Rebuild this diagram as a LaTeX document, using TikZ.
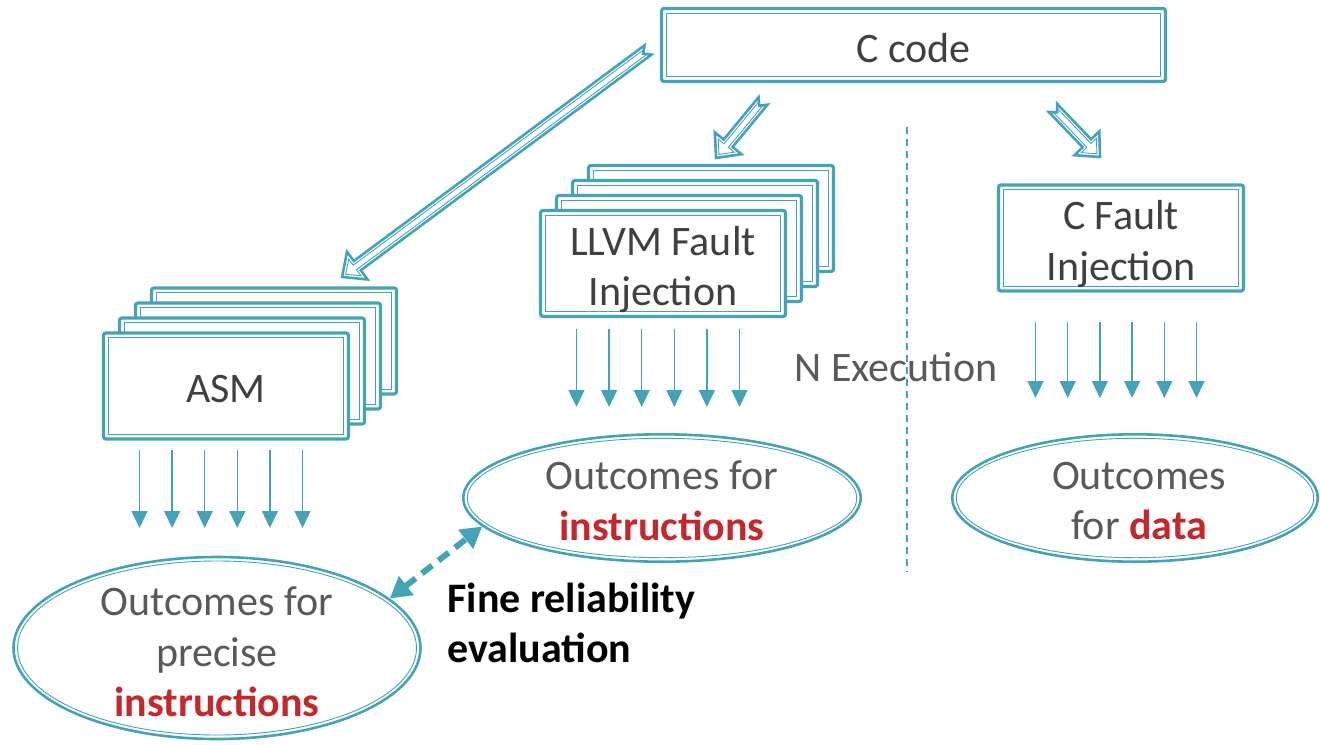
\documentclass[tikz,border=0pt]{standalone}
\usepackage{fontspec}
\setmainfont{Carlito}
\usetikzlibrary{arrows.meta,calc,shapes.geometric}

\definecolor{tealc}{RGB}{69,163,184}
\definecolor{boxtext}{RGB}{64,64,64}
\definecolor{greytext}{RGB}{89,89,89}
\definecolor{redc}{RGB}{196,40,44}

\tikzset{
  bigfont/.style={font=\fontsize{21}{25.3}\selectfont},
  dbox/.style={draw=tealc, line width=1.6pt, fill=white, rounded corners=1.2pt,
    minimum width=122.5pt, minimum height=53pt, inner sep=0pt,
    path picture={\draw[tealc, line width=0.5pt, sharp corners]
      ([shift={(2.3pt,2.3pt)}]path picture bounding box.south west) rectangle
      ([shift={(-2.3pt,-2.3pt)}]path picture bounding box.north east);}},
  boxlabel/.style={text=boxtext, align=center, bigfont, inner sep=0pt},
  dell/.style={ellipse, draw=tealc, line width=1.3pt, fill=white, inner sep=0pt,
    path picture={\draw[tealc, line width=0.45pt]
      let \p1=(path picture bounding box.center),
          \p2=(path picture bounding box.north east) in
      (\p1) ellipse [x radius=\x2-\x1-2pt, y radius=\y2-\y1-2pt];}},
  etext/.style={text=greytext, align=center, bigfont, inner sep=0pt},
  ray/.style={draw=tealc, line width=0.65pt, -{Triangle[width=8pt,length=8.5pt]}},
  hollowout/.style={draw=tealc, fill=white, line width=1.3pt, line join=miter},
  hollowin/.style={draw=tealc, line width=0.45pt, line join=miter},
  dashlink/.style={draw=tealc, line width=3pt, dash pattern=on 6.5pt off 4pt,
    {Triangle[length=10.5pt,width=11.5pt]}-{Triangle[length=10.5pt,width=11.5pt]}},
  sepline/.style={draw=tealc, line width=0.7pt, dash pattern=on 3.5pt off 2.5pt},
}

% Notched block arrow with a double outline, from coordinate #1 to tip #2
\newcommand\hollowarrow[2]{%
  \path let \p1=(#1), \p2=(#2) in \pgfextra{%
    \pgfmathparse{atan2(\y2-\y1,\x2-\x1)}\xdef\haang{\pgfmathresult}%
    \pgfmathparse{veclen(\x2-\x1,\y2-\y1)}\xdef\halen{\pgfmathresult}};
  \begin{scope}[shift={(#1)}, rotate=\haang]
    \draw[hollowout] (0pt,2.9pt) -- (3pt,0pt) -- (0pt,-2.9pt)
      -- ({\halen pt-9.5pt},-2.9pt) -- ({\halen pt-9.5pt},-8.6pt)
      -- ({\halen pt},0pt) -- ({\halen pt-9.5pt},8.6pt)
      -- ({\halen pt-9.5pt},2.9pt) -- cycle;
    \draw[hollowin] (1.9pt,1.4pt) -- (3.3pt,0pt) -- (1.9pt,-1.4pt)
      -- ({\halen pt-8pt},-1.4pt) -- ({\halen pt-8pt},-5.2pt)
      -- ({\halen pt-2.25pt},0pt) -- ({\halen pt-8pt},5.2pt)
      -- ({\halen pt-8pt},1.4pt) -- cycle;
  \end{scope}}

\begin{document}
\begin{tikzpicture}[x=0.5pt,y=-0.5pt]
\useasboundingbox (0,0) rectangle (1320,744);

% separator between instruction-level and data-level injection
\coordinate (septop) at (907,127);
\coordinate (sepbot) at (907,572);
\draw[sepline] (septop) -- (sepbot);

% source program
\node[dbox, minimum width=252pt, minimum height=36.5pt] (ccode) at (913.5,45) {};
\node[boxlabel] (ccodet) at ($(ccode)+(0,3)$) {C code};

% assembly-level injection (stack of copies)
\foreach \k in {3,2,1}
  \node[dbox] (asm\k) at ($(226,386)+(16*\k,-15*\k)$) {};
\node[dbox] (asm) at (226,386) {};
\node[boxlabel] (asmt) at ($(asm)+(0,3)$) {ASM};

% LLVM-level injection (stack of copies)
\foreach \k in {3,2,1}
  \node[dbox] (llvm\k) at ($(663,263.5)+(16*\k,-15*\k)$) {};
\node[dbox] (llvm) at (663,263.5) {};
\node[boxlabel] (llvmt) at ($(llvm)+(0,6)$) {LLVM Fault\\Injection};

% C-level injection
\node[dbox] (cfi) at (1121,238) {};
\node[boxlabel] (cfit) at ($(cfi)+(0,6)$) {C Fault\\Injection};

% outcome ellipses
\node[dell, minimum width=203.5pt, minimum height=91pt] (oasm) at (217,648) {};
\node[dell, minimum width=198.7pt, minimum height=63.7pt] (oinst) at (662,498) {};
\node[dell, minimum width=182.7pt, minimum height=63.7pt] (odata) at (1135,498) {};

\node[etext] (toasm) at (217,652) {Outcomes for\\precise\\{\bfseries\color{redc}instructions}};
\node[etext] (toinst) at (662,501) {Outcomes for\\{\bfseries\color{redc}instructions}};
\node[etext] (todata) at (1139,501) {Outcomes\\for {\bfseries\color{redc}data}};

% repeated executions
\foreach \i in {0,...,5} {
  \draw[ray] ($(asm.center)+(-5+32.6*\i-81.5,64)$) -- ++(0,78);
  \draw[ray] ($(llvm.center)+(-5+32.6*\i-81.5,65.5)$) -- ++(0,78);
  \draw[ray] ($(cfi.center)+(-5+32.2*\i-80.5,84)$) -- ++(0,76);
}
\node[text=greytext, bigfont, inner sep=0pt] (nexec) at (896,367) {N Execution};

% compilation / transformation arrows from the C code
\coordinate (a1s) at (648,50);
\coordinate (a1e) at (342,277);
\coordinate (a2s) at (763,101);
\coordinate (a2e) at (716,158);
\coordinate (a3s) at (1053,108);
\coordinate (a3e) at (1100,157);
\hollowarrow{a1s}{a1e}
\hollowarrow{a2s}{a2e}
\hollowarrow{a3s}{a3e}

% comparison between the two instruction-level results
\draw[dashlink] (oasm.16.5) -- (oinst.189.7);
\node[anchor=west, align=left, inner sep=0pt, font=\bfseries\fontsize{21}{25.3}\selectfont, text=black]
  (fine) at (447,623) {Fine reliability\\evaluation};

\end{tikzpicture}
\end{document}
